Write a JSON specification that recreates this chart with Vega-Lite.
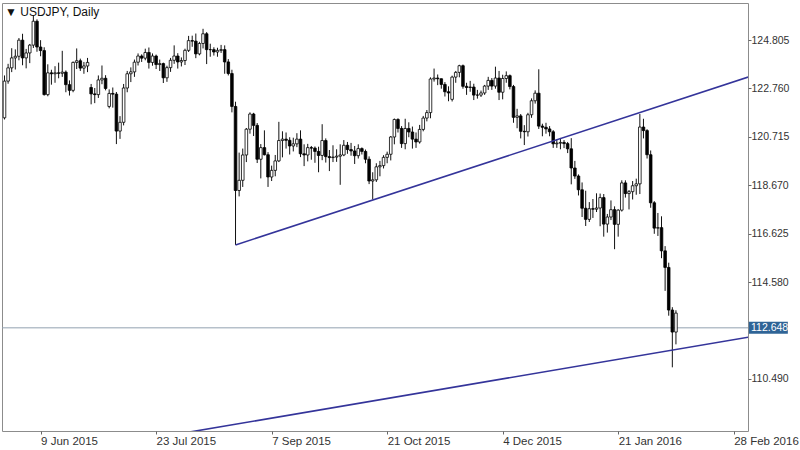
{
  "$schema": "https://vega.github.io/schema/vega-lite/v6.json",
  "width": 746,
  "height": 428,
  "autosize": {"type": "none"},
  "padding": {"left": 2, "top": 3, "right": 52, "bottom": 19},
  "background": "white",
  "config": {
    "view": {"stroke": "#8c8c8c", "strokeWidth": 1},
    "font": "Liberation Sans",
    "scale": {"continuousPadding": 0}
  },
  "datasets": {
    "candles": [
      {"d":"2015-05-26","o":121.52,"h":123.31,"l":121.45,"c":123.07},
      {"d":"2015-05-27","o":123.07,"h":123.80,"l":122.96,"c":123.63},
      {"d":"2015-05-28","o":123.63,"h":124.46,"l":123.45,"c":124.05},
      {"d":"2015-05-29","o":124.05,"h":124.41,"l":123.56,"c":124.12},
      {"d":"2015-06-01","o":124.12,"h":124.89,"l":123.95,"c":124.80},
      {"d":"2015-06-02","o":124.80,"h":125.07,"l":123.74,"c":124.05},
      {"d":"2015-06-03","o":124.05,"h":124.43,"l":123.61,"c":124.26},
      {"d":"2015-06-04","o":124.26,"h":124.64,"l":123.83,"c":124.59},
      {"d":"2015-06-05","o":124.59,"h":125.86,"l":124.47,"c":125.60},
      {"d":"2015-06-08","o":125.60,"h":125.68,"l":124.31,"c":124.51},
      {"d":"2015-06-09","o":124.51,"h":124.80,"l":124.12,"c":124.36},
      {"d":"2015-06-10","o":124.36,"h":124.50,"l":122.46,"c":122.50},
      {"d":"2015-06-11","o":122.50,"h":123.78,"l":122.43,"c":123.42},
      {"d":"2015-06-12","o":123.42,"h":123.55,"l":122.92,"c":123.38},
      {"d":"2015-06-15","o":123.38,"h":123.70,"l":123.00,"c":123.42},
      {"d":"2015-06-16","o":123.42,"h":123.85,"l":123.19,"c":123.40},
      {"d":"2015-06-17","o":123.40,"h":124.35,"l":123.25,"c":123.45},
      {"d":"2015-06-18","o":123.45,"h":123.52,"l":122.60,"c":122.92},
      {"d":"2015-06-19","o":122.92,"h":123.10,"l":122.46,"c":122.68},
      {"d":"2015-06-22","o":122.68,"h":123.90,"l":122.60,"c":123.86},
      {"d":"2015-06-23","o":123.86,"h":124.45,"l":123.58,"c":123.93},
      {"d":"2015-06-24","o":123.93,"h":124.02,"l":123.50,"c":123.62},
      {"d":"2015-06-25","o":123.62,"h":123.88,"l":123.38,"c":123.71},
      {"d":"2015-06-26","o":123.71,"h":124.05,"l":123.45,"c":123.86},
      {"d":"2015-06-29","o":122.80,"h":122.95,"l":122.09,"c":122.53},
      {"d":"2015-06-30","o":122.53,"h":122.78,"l":122.14,"c":122.50},
      {"d":"2015-07-01","o":122.50,"h":123.31,"l":122.36,"c":123.12},
      {"d":"2015-07-02","o":123.12,"h":123.73,"l":122.94,"c":123.19},
      {"d":"2015-07-03","o":123.19,"h":123.32,"l":122.68,"c":122.76},
      {"d":"2015-07-06","o":122.00,"h":122.72,"l":121.92,"c":122.55},
      {"d":"2015-07-07","o":122.55,"h":122.80,"l":121.95,"c":122.52},
      {"d":"2015-07-08","o":122.52,"h":122.61,"l":120.41,"c":120.96},
      {"d":"2015-07-09","o":120.96,"h":121.59,"l":120.63,"c":121.33},
      {"d":"2015-07-10","o":121.33,"h":122.95,"l":121.20,"c":122.78},
      {"d":"2015-07-13","o":122.78,"h":123.50,"l":122.60,"c":123.38},
      {"d":"2015-07-14","o":123.38,"h":123.65,"l":123.03,"c":123.46},
      {"d":"2015-07-15","o":123.46,"h":123.98,"l":123.25,"c":123.87},
      {"d":"2015-07-16","o":123.87,"h":124.24,"l":123.73,"c":124.13},
      {"d":"2015-07-17","o":124.13,"h":124.20,"l":123.88,"c":124.04},
      {"d":"2015-07-20","o":124.04,"h":124.44,"l":123.95,"c":124.28},
      {"d":"2015-07-21","o":124.28,"h":124.49,"l":123.60,"c":123.86},
      {"d":"2015-07-22","o":123.86,"h":124.24,"l":123.72,"c":124.13},
      {"d":"2015-07-23","o":124.13,"h":124.19,"l":123.58,"c":123.77},
      {"d":"2015-07-24","o":123.77,"h":123.98,"l":123.50,"c":123.81},
      {"d":"2015-07-27","o":123.81,"h":123.85,"l":122.99,"c":123.21},
      {"d":"2015-07-28","o":123.21,"h":123.72,"l":123.04,"c":123.64},
      {"d":"2015-07-29","o":123.64,"h":124.05,"l":123.46,"c":123.95},
      {"d":"2015-07-30","o":123.95,"h":124.58,"l":123.80,"c":124.13},
      {"d":"2015-07-31","o":124.13,"h":124.25,"l":123.60,"c":123.88},
      {"d":"2015-08-03","o":123.88,"h":124.07,"l":123.69,"c":123.94},
      {"d":"2015-08-04","o":123.94,"h":124.44,"l":123.75,"c":124.37},
      {"d":"2015-08-05","o":124.37,"h":124.98,"l":124.30,"c":124.78},
      {"d":"2015-08-06","o":124.78,"h":124.99,"l":124.52,"c":124.76},
      {"d":"2015-08-07","o":124.76,"h":125.08,"l":124.04,"c":124.22},
      {"d":"2015-08-10","o":124.22,"h":124.73,"l":124.16,"c":124.66},
      {"d":"2015-08-11","o":124.66,"h":125.28,"l":124.45,"c":125.07},
      {"d":"2015-08-12","o":125.07,"h":125.14,"l":123.79,"c":124.40},
      {"d":"2015-08-13","o":124.40,"h":124.65,"l":124.10,"c":124.40},
      {"d":"2015-08-14","o":124.40,"h":124.50,"l":124.15,"c":124.30},
      {"d":"2015-08-17","o":124.30,"h":124.48,"l":124.10,"c":124.37},
      {"d":"2015-08-18","o":124.37,"h":124.60,"l":124.26,"c":124.40},
      {"d":"2015-08-19","o":124.40,"h":124.58,"l":123.38,"c":123.88},
      {"d":"2015-08-20","o":123.88,"h":124.00,"l":123.31,"c":123.39},
      {"d":"2015-08-21","o":123.39,"h":123.55,"l":121.75,"c":122.00},
      {"d":"2015-08-24","o":122.00,"h":122.20,"l":116.15,"c":118.45},
      {"d":"2015-08-25","o":118.45,"h":120.05,"l":118.20,"c":118.88},
      {"d":"2015-08-26","o":118.88,"h":120.22,"l":118.60,"c":119.95},
      {"d":"2015-08-27","o":119.95,"h":121.09,"l":119.65,"c":121.04},
      {"d":"2015-08-28","o":121.04,"h":121.75,"l":120.85,"c":121.68},
      {"d":"2015-08-31","o":121.68,"h":121.73,"l":120.75,"c":121.20},
      {"d":"2015-09-01","o":121.20,"h":121.30,"l":119.61,"c":119.77},
      {"d":"2015-09-02","o":119.77,"h":120.41,"l":118.96,"c":120.26},
      {"d":"2015-09-03","o":120.26,"h":120.99,"l":119.93,"c":119.96},
      {"d":"2015-09-04","o":119.96,"h":120.07,"l":118.60,"c":119.02},
      {"d":"2015-09-07","o":119.02,"h":119.50,"l":118.85,"c":119.30},
      {"d":"2015-09-08","o":119.30,"h":119.95,"l":119.05,"c":119.70},
      {"d":"2015-09-09","o":119.70,"h":121.35,"l":119.65,"c":120.56},
      {"d":"2015-09-10","o":120.56,"h":120.95,"l":119.85,"c":120.62},
      {"d":"2015-09-11","o":120.62,"h":120.90,"l":120.22,"c":120.57},
      {"d":"2015-09-14","o":120.57,"h":120.70,"l":119.97,"c":120.33},
      {"d":"2015-09-15","o":120.33,"h":120.68,"l":120.10,"c":120.42},
      {"d":"2015-09-16","o":120.42,"h":120.87,"l":120.28,"c":120.62},
      {"d":"2015-09-17","o":120.62,"h":120.99,"l":119.86,"c":120.00},
      {"d":"2015-09-18","o":120.00,"h":120.40,"l":119.48,"c":119.95},
      {"d":"2015-09-21","o":119.95,"h":120.42,"l":119.68,"c":120.26},
      {"d":"2015-09-22","o":120.26,"h":120.33,"l":119.75,"c":120.24},
      {"d":"2015-09-23","o":120.24,"h":120.31,"l":119.62,"c":120.10},
      {"d":"2015-09-24","o":120.10,"h":120.30,"l":119.22,"c":119.93},
      {"d":"2015-09-25","o":119.93,"h":121.25,"l":119.73,"c":120.56},
      {"d":"2015-09-28","o":120.56,"h":120.65,"l":119.63,"c":119.88},
      {"d":"2015-09-29","o":119.88,"h":120.16,"l":119.27,"c":119.84},
      {"d":"2015-09-30","o":119.84,"h":120.36,"l":119.65,"c":119.86},
      {"d":"2015-10-01","o":119.86,"h":120.19,"l":119.66,"c":119.90},
      {"d":"2015-10-02","o":119.90,"h":120.40,"l":118.69,"c":119.95},
      {"d":"2015-10-05","o":119.95,"h":120.58,"l":119.90,"c":120.36},
      {"d":"2015-10-06","o":120.36,"h":120.50,"l":120.00,"c":120.18},
      {"d":"2015-10-07","o":120.18,"h":120.46,"l":119.92,"c":120.12},
      {"d":"2015-10-08","o":120.12,"h":120.33,"l":119.57,"c":119.92},
      {"d":"2015-10-09","o":119.92,"h":120.40,"l":119.80,"c":120.22},
      {"d":"2015-10-12","o":120.22,"h":120.27,"l":119.97,"c":120.10},
      {"d":"2015-10-13","o":120.10,"h":120.18,"l":119.60,"c":119.77},
      {"d":"2015-10-14","o":119.77,"h":119.89,"l":118.72,"c":118.85},
      {"d":"2015-10-15","o":118.85,"h":119.22,"l":118.07,"c":118.90},
      {"d":"2015-10-16","o":118.90,"h":119.60,"l":118.81,"c":119.45},
      {"d":"2015-10-19","o":119.45,"h":119.70,"l":119.05,"c":119.50},
      {"d":"2015-10-20","o":119.50,"h":119.94,"l":119.38,"c":119.85},
      {"d":"2015-10-21","o":119.85,"h":120.09,"l":119.60,"c":119.98},
      {"d":"2015-10-22","o":119.98,"h":120.75,"l":119.72,"c":120.71},
      {"d":"2015-10-23","o":120.71,"h":121.49,"l":120.40,"c":121.45},
      {"d":"2015-10-26","o":121.45,"h":121.50,"l":120.90,"c":121.07},
      {"d":"2015-10-27","o":121.07,"h":121.17,"l":120.25,"c":120.43},
      {"d":"2015-10-28","o":120.43,"h":121.48,"l":120.19,"c":121.07},
      {"d":"2015-10-29","o":121.07,"h":121.33,"l":120.70,"c":120.92},
      {"d":"2015-10-30","o":120.92,"h":121.15,"l":120.22,"c":120.62},
      {"d":"2015-11-02","o":120.62,"h":120.90,"l":120.25,"c":120.50},
      {"d":"2015-11-03","o":120.50,"h":121.22,"l":120.43,"c":121.03},
      {"d":"2015-11-04","o":121.03,"h":121.60,"l":120.95,"c":121.51},
      {"d":"2015-11-05","o":121.51,"h":121.85,"l":121.37,"c":121.74},
      {"d":"2015-11-06","o":121.74,"h":123.23,"l":121.50,"c":123.16},
      {"d":"2015-11-09","o":123.16,"h":123.60,"l":123.05,"c":123.20},
      {"d":"2015-11-10","o":123.20,"h":123.35,"l":122.90,"c":123.17},
      {"d":"2015-11-11","o":123.17,"h":123.18,"l":122.75,"c":122.93},
      {"d":"2015-11-12","o":122.93,"h":123.03,"l":122.42,"c":122.62},
      {"d":"2015-11-13","o":122.62,"h":122.85,"l":122.22,"c":122.57},
      {"d":"2015-11-16","o":122.30,"h":123.30,"l":122.21,"c":123.24},
      {"d":"2015-11-17","o":123.24,"h":123.50,"l":123.00,"c":123.44},
      {"d":"2015-11-18","o":123.44,"h":123.76,"l":123.23,"c":123.72},
      {"d":"2015-11-19","o":123.72,"h":123.77,"l":122.75,"c":122.85},
      {"d":"2015-11-20","o":122.85,"h":123.00,"l":122.49,"c":122.80},
      {"d":"2015-11-23","o":122.80,"h":123.08,"l":122.62,"c":122.82},
      {"d":"2015-11-24","o":122.82,"h":122.96,"l":122.27,"c":122.48},
      {"d":"2015-11-25","o":122.48,"h":122.70,"l":122.33,"c":122.48},
      {"d":"2015-11-26","o":122.48,"h":122.67,"l":122.40,"c":122.57},
      {"d":"2015-11-27","o":122.57,"h":122.91,"l":122.49,"c":122.86},
      {"d":"2015-11-30","o":122.86,"h":123.25,"l":122.70,"c":123.10},
      {"d":"2015-12-01","o":123.10,"h":123.20,"l":122.70,"c":122.86},
      {"d":"2015-12-02","o":122.86,"h":123.68,"l":122.75,"c":123.20},
      {"d":"2015-12-03","o":123.20,"h":123.50,"l":122.27,"c":122.60},
      {"d":"2015-12-04","o":122.60,"h":123.34,"l":122.30,"c":123.18},
      {"d":"2015-12-07","o":123.18,"h":123.48,"l":123.00,"c":123.30},
      {"d":"2015-12-08","o":123.30,"h":123.35,"l":122.72,"c":122.84},
      {"d":"2015-12-09","o":122.84,"h":122.91,"l":121.31,"c":121.54},
      {"d":"2015-12-10","o":121.54,"h":121.90,"l":121.08,"c":121.60},
      {"d":"2015-12-11","o":121.60,"h":121.68,"l":120.65,"c":120.95},
      {"d":"2015-12-14","o":120.95,"h":121.21,"l":120.37,"c":120.93},
      {"d":"2015-12-15","o":120.93,"h":121.73,"l":120.73,"c":121.65},
      {"d":"2015-12-16","o":121.65,"h":122.34,"l":121.52,"c":122.24},
      {"d":"2015-12-17","o":122.24,"h":122.68,"l":122.12,"c":122.56},
      {"d":"2015-12-18","o":122.56,"h":123.57,"l":121.05,"c":121.17},
      {"d":"2015-12-21","o":121.17,"h":121.27,"l":120.74,"c":121.12},
      {"d":"2015-12-22","o":121.12,"h":121.31,"l":120.85,"c":121.05},
      {"d":"2015-12-23","o":121.05,"h":121.17,"l":120.74,"c":120.93},
      {"d":"2015-12-24","o":120.93,"h":121.00,"l":120.25,"c":120.42},
      {"d":"2015-12-28","o":120.42,"h":120.61,"l":120.25,"c":120.45},
      {"d":"2015-12-29","o":120.45,"h":120.67,"l":120.19,"c":120.48},
      {"d":"2015-12-30","o":120.48,"h":120.58,"l":120.24,"c":120.43},
      {"d":"2015-12-31","o":120.43,"h":120.50,"l":120.03,"c":120.21},
      {"d":"2016-01-04","o":120.21,"h":120.66,"l":118.71,"c":119.40},
      {"d":"2016-01-05","o":119.40,"h":119.70,"l":118.94,"c":119.06},
      {"d":"2016-01-06","o":119.06,"h":119.13,"l":118.24,"c":118.48},
      {"d":"2016-01-07","o":118.48,"h":118.79,"l":117.33,"c":117.70},
      {"d":"2016-01-08","o":117.70,"h":118.44,"l":116.95,"c":117.23},
      {"d":"2016-01-11","o":117.23,"h":117.96,"l":117.12,"c":117.68},
      {"d":"2016-01-12","o":117.68,"h":118.09,"l":117.29,"c":117.66},
      {"d":"2016-01-13","o":117.66,"h":118.33,"l":117.54,"c":117.71},
      {"d":"2016-01-14","o":117.71,"h":118.32,"l":116.94,"c":118.15},
      {"d":"2016-01-15","o":118.15,"h":118.30,"l":116.50,"c":117.03},
      {"d":"2016-01-18","o":117.03,"h":117.46,"l":116.67,"c":117.33},
      {"d":"2016-01-19","o":117.33,"h":118.03,"l":117.20,"c":117.64},
      {"d":"2016-01-20","o":117.64,"h":117.78,"l":115.97,"c":117.02},
      {"d":"2016-01-21","o":117.02,"h":117.66,"l":116.50,"c":117.62},
      {"d":"2016-01-22","o":117.62,"h":118.88,"l":117.56,"c":118.77},
      {"d":"2016-01-25","o":118.77,"h":118.88,"l":118.15,"c":118.32},
      {"d":"2016-01-26","o":118.32,"h":118.47,"l":117.65,"c":118.40},
      {"d":"2016-01-27","o":118.40,"h":118.85,"l":118.07,"c":118.65},
      {"d":"2016-01-28","o":118.65,"h":118.95,"l":118.27,"c":118.73},
      {"d":"2016-01-29","o":118.73,"h":121.68,"l":118.30,"c":121.13},
      {"d":"2016-02-01","o":121.13,"h":121.48,"l":120.65,"c":120.98},
      {"d":"2016-02-02","o":120.98,"h":121.04,"l":119.80,"c":119.96},
      {"d":"2016-02-03","o":119.96,"h":120.14,"l":117.72,"c":117.93},
      {"d":"2016-02-04","o":117.93,"h":118.00,"l":116.62,"c":116.86},
      {"d":"2016-02-05","o":116.86,"h":117.50,"l":116.53,"c":116.88},
      {"d":"2016-02-08","o":116.88,"h":117.36,"l":115.59,"c":115.90},
      {"d":"2016-02-09","o":115.90,"h":116.10,"l":114.21,"c":115.20},
      {"d":"2016-02-10","o":115.20,"h":115.40,"l":113.16,"c":113.40},
      {"d":"2016-02-11","o":113.40,"h":113.52,"l":110.98,"c":112.47},
      {"d":"2016-02-12","o":112.47,"h":113.39,"l":111.95,"c":113.27}
    ],
    "trend": [
      {"line": "upper", "bar": 65, "p": 116.15},
      {"line": "upper", "bar": 207, "p": 123.24},
      {"line": "lower", "bar": 40, "p": 107.93},
      {"line": "lower", "bar": 207, "p": 112.25}
    ],
    "price": [{"p": 112.648}],
    "info": [{"name": "▼ USDJPY, Daily"}]
  },
  "layer": [
    {
      "data": {"name": "price"},
      "mark": {"type": "rule", "color": "#93a1b0", "strokeWidth": 1},
      "encoding": {
        "y": {
          "field": "p",
          "type": "quantitative",
          "scale": {"domain": [108.29, 126.37], "nice": false, "zero": false, "padding": 0},
          "axis": {
            "orient": "right",
            "title": null,
            "values": [110.49, 114.58, 116.625, 118.67, 120.715, 122.76, 124.805],
            "format": ".3f",
            "labelFontSize": 10.5,
            "labelFont": "Liberation Sans",
            "labelColor": "#333333",
            "labelPadding": 0,
            "tickSize": 3,
            "tickColor": "#666666",
            "domain": false,
            "grid": false
          }
        }
      }
    },
    {
      "data": {"name": "candles"},
      "transform": [
        {"window": [{"op": "row_number", "as": "bar"}], "sort": [{"field": "d"}]}
      ],
      "encoding": {
        "x": {
          "field": "bar",
          "type": "quantitative",
          "scale": {"domain": [0.31, 206.96], "nice": false, "zero": false, "padding": 0},
          "axis": {
            "orient": "bottom",
            "title": null,
            "values": [11, 43, 75, 107, 139, 171, 203],
            "labelExpr": "datum.value == 11 ? '9 Jun 2015' : datum.value == 43 ? '23 Jul 2015' : datum.value == 75 ? '7 Sep 2015' : datum.value == 107 ? '21 Oct 2015' : datum.value == 139 ? '4 Dec 2015' : datum.value == 171 ? '21 Jan 2016' : '28 Feb 2016'",
            "labelAlign": "left",
            "labelBaseline": "top",
            "labelPadding": 1,
            "labelFontSize": 11.5,
            "labelFont": "Liberation Sans",
            "labelColor": "#333333",
            "labelOverlap": false,
            "labelFlush": false,
            "labelBound": false,
            "tickSize": 3,
            "tickColor": "#666666",
            "domain": false,
            "grid": false
          }
        }
      },
      "layer": [
        {
          "mark": {"type": "rule", "color": "#111111", "strokeWidth": 1},
          "encoding": {
            "y": {"field": "l", "type": "quantitative", "scale": {"domain": [108.29, 126.37], "nice": false, "zero": false, "padding": 0}},
            "y2": {"field": "h"}
          }
        },
        {
          "mark": {"type": "bar", "size": 2.6, "stroke": "#000000", "strokeWidth": 0.8},
          "encoding": {
            "y": {"field": "o", "type": "quantitative", "scale": {"domain": [108.29, 126.37], "nice": false, "zero": false, "padding": 0}},
            "y2": {"field": "c"},
            "fill": {
              "condition": {"test": "datum.c >= datum.o", "value": "#ffffff"},
              "value": "#000000"
            }
          }
        }
      ]
    },
    {
      "data": {"name": "trend"},
      "mark": {"type": "line", "color": "#34349a", "strokeWidth": 1.6, "clip": true},
      "encoding": {
        "x": {"field": "bar", "type": "quantitative", "scale": {"domain": [0.31, 206.96], "nice": false, "zero": false, "padding": 0}},
        "y": {"field": "p", "type": "quantitative", "scale": {"domain": [108.29, 126.37], "nice": false, "zero": false, "padding": 0}},
        "detail": {"field": "line"}
      }
    },
    {
      "data": {"name": "price"},
      "mark": {"type": "rect", "color": "#2f6496", "clip": false},
      "encoding": {
        "x": {"datum": 207.2, "type": "quantitative", "scale": {"domain": [0.31, 206.96], "nice": false, "zero": false, "padding": 0}},
        "x2": {"datum": 218.0},
        "y": {"datum": 112.40, "type": "quantitative", "scale": {"domain": [108.29, 126.37], "nice": false, "zero": false, "padding": 0}},
        "y2": {"datum": 112.90}
      }
    },
    {
      "data": {"name": "price"},
      "mark": {"type": "text", "color": "#ffffff", "align": "left", "baseline": "middle", "dx": 3, "fontSize": 10.5, "font": "Liberation Sans", "clip": false},
      "encoding": {
        "x": {"datum": 206.96, "type": "quantitative", "scale": {"domain": [0.31, 206.96], "nice": false, "zero": false, "padding": 0}},
        "y": {"field": "p", "type": "quantitative", "scale": {"domain": [108.29, 126.37], "nice": false, "zero": false, "padding": 0}},
        "text": {"field": "p", "type": "quantitative", "format": ".3f"}
      }
    },
    {
      "data": {"name": "info"},
      "mark": {"type": "text", "color": "#111111", "align": "left", "baseline": "top", "dx": 3, "dy": 4, "fontSize": 12, "font": "Liberation Sans", "clip": false},
      "encoding": {
        "x": {"datum": 0.31, "type": "quantitative", "scale": {"domain": [0.31, 206.96], "nice": false, "zero": false, "padding": 0}},
        "y": {"datum": 126.37, "type": "quantitative", "scale": {"domain": [108.29, 126.37], "nice": false, "zero": false, "padding": 0}},
        "text": {"field": "name"}
      }
    }
  ]
}
